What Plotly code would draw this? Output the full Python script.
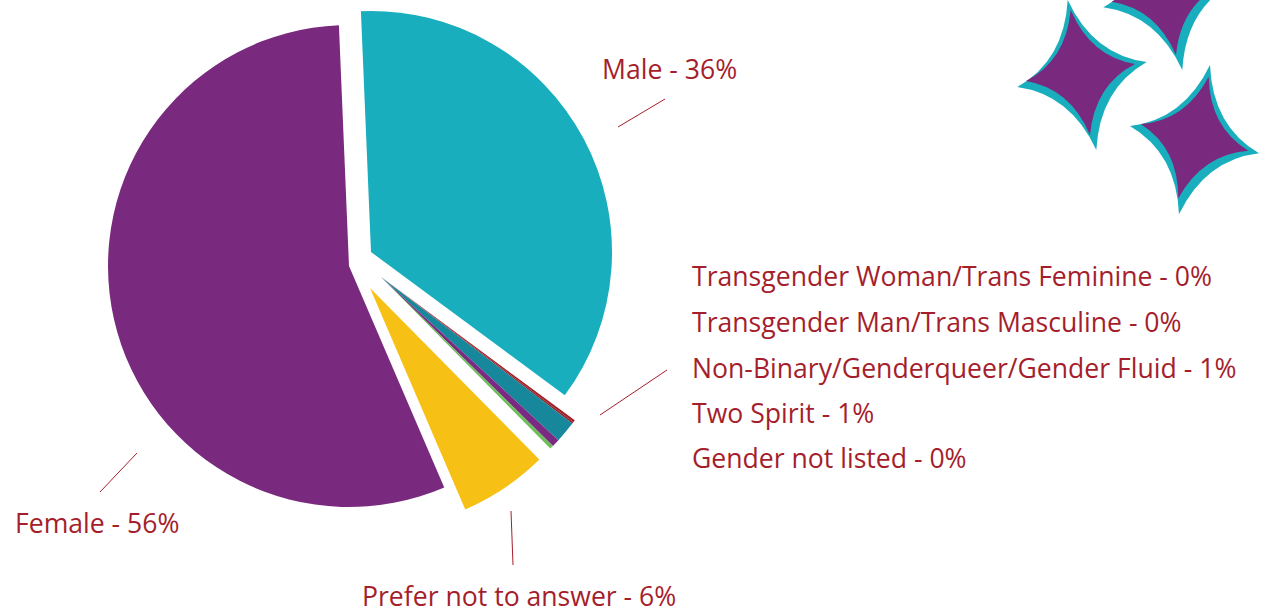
import plotly.graph_objects as go

W, H = 1284, 614

categories = ["Male", "Transgender Woman/Trans Feminine", "Transgender Man/Trans Masculine",
              "Non-Binary/Genderqueer/Gender Fluid", "Two Spirit", "Gender not listed",
              "Prefer not to answer", "Female"]
values = [35.8, 0.15, 0.12, 1.43, 0.53, 0.24, 5.93, 55.8]
rounded = [36, 0, 0, 1, 1, 0, 6, 56]
colors = ["#19AEBD", "#9E1F27", "#9E1F27", "#17879B", "#7A2A82", "#6DBE5B", "#F6C015", "#7A2A7E"]
TEXT = "#A51E2C"
FONT = "Open Sans"
FONT_SIZE = 26.6

# exploded groups: (slice indices, apex x, apex y)
groups = [([0], 371, 252), ([1, 2, 3, 4, 5], 381, 277), ([6], 370, 288), ([7], 349, 266)]
R = 241

fig = go.Figure()
for idx, cx, cy in groups:
    fig.add_trace(go.Pie(
        labels=categories, values=values, sort=False, direction="clockwise", rotation=-2.4,
        marker=dict(colors=[colors[i] if i in idx else "rgba(0,0,0,0)" for i in range(len(values))],
                    line=dict(width=0)),
        textinfo="none", hoverinfo="label+percent", showlegend=False,
        domain=dict(x=[(cx - R) / W, (cx + R) / W], y=[1 - (cy + R) / H, 1 - (cy - R) / H]),
    ))

label_pos = {0: (600, 69), 1: (690, 276), 2: (690, 322), 3: (690, 368), 4: (690, 413),
             5: (690, 458), 6: (360, 595.5), 7: (13, 523)}
anns = []
for i, (x, y) in label_pos.items():
    anns.append(dict(x=x / W, y=1 - y / H, xref="paper", yref="paper", xanchor="left", yanchor="middle",
                     showarrow=False, text=f"{categories[i]} - {rounded[i]}%",
                     font=dict(family=FONT, size=FONT_SIZE, color=TEXT)))

shapes = []
for x0, y0, x1, y1 in [(618, 127, 665, 99), (600, 415, 667, 370), (100, 492, 137, 453), (511, 511, 513, 565)]:
    shapes.append(dict(type="line", xref="paper", yref="paper", x0=x0 / W, y0=1 - y0 / H, x1=x1 / W, y1=1 - y1 / H,
                       line=dict(color=TEXT, width=1)))


def star(pts, color, k=0.55):
    cx = sum(p[0] for p in pts) / 4
    cy = sum(p[1] for p in pts) / 4
    fx = lambda v: f"{v / W:.5f}"
    fy = lambda v: f"{1 - v / H:.5f}"
    d = f"M{fx(pts[0][0])},{fy(pts[0][1])}"
    for a, b in zip(pts, pts[1:] + pts[:1]):
        mx, my = (a[0] + b[0]) / 2, (a[1] + b[1]) / 2
        qx, qy = mx + (cx - mx) * k, my + (cy - my) * k
        d += f" Q{fx(qx)},{fy(qy)} {fx(b[0])},{fy(b[1])}"
    return dict(type="path", xref="paper", yref="paper", path=d + " Z", fillcolor=color, line=dict(width=0))


stars = [
    ([(1067.7, 0), (1146.7, 62), (1096.3, 150), (1017.3, 87)],
     [(1070.7, 10), (1135, 64), (1090, 135), (1026, 81)]),
    ([(1210, 65), (1259, 153.3), (1179, 214.3), (1130, 126)],
     [(1208.7, 76.7), (1248.3, 150.7), (1178.3, 198.3), (1140.7, 124)]),
    ([(1153.7, -79.7), (1232.7, -17), (1182.3, 70), (1103.3, 7.3)],
     [(1156.7, -69.7), (1221, -15), (1176, 55), (1111.7, 1.7)]),
]
for teal, purple in stars:
    shapes.append(star(teal, "#19AEBD"))
    shapes.append(star(purple, "#7A2A7E"))

fig.update_layout(width=W, height=H, margin=dict(l=0, r=0, t=0, b=0), paper_bgcolor="white",
                  annotations=anns, shapes=shapes)
fig.write_html("out.html", config={"displayModeBar": False}, post_script="document.body.style.margin='0';")
